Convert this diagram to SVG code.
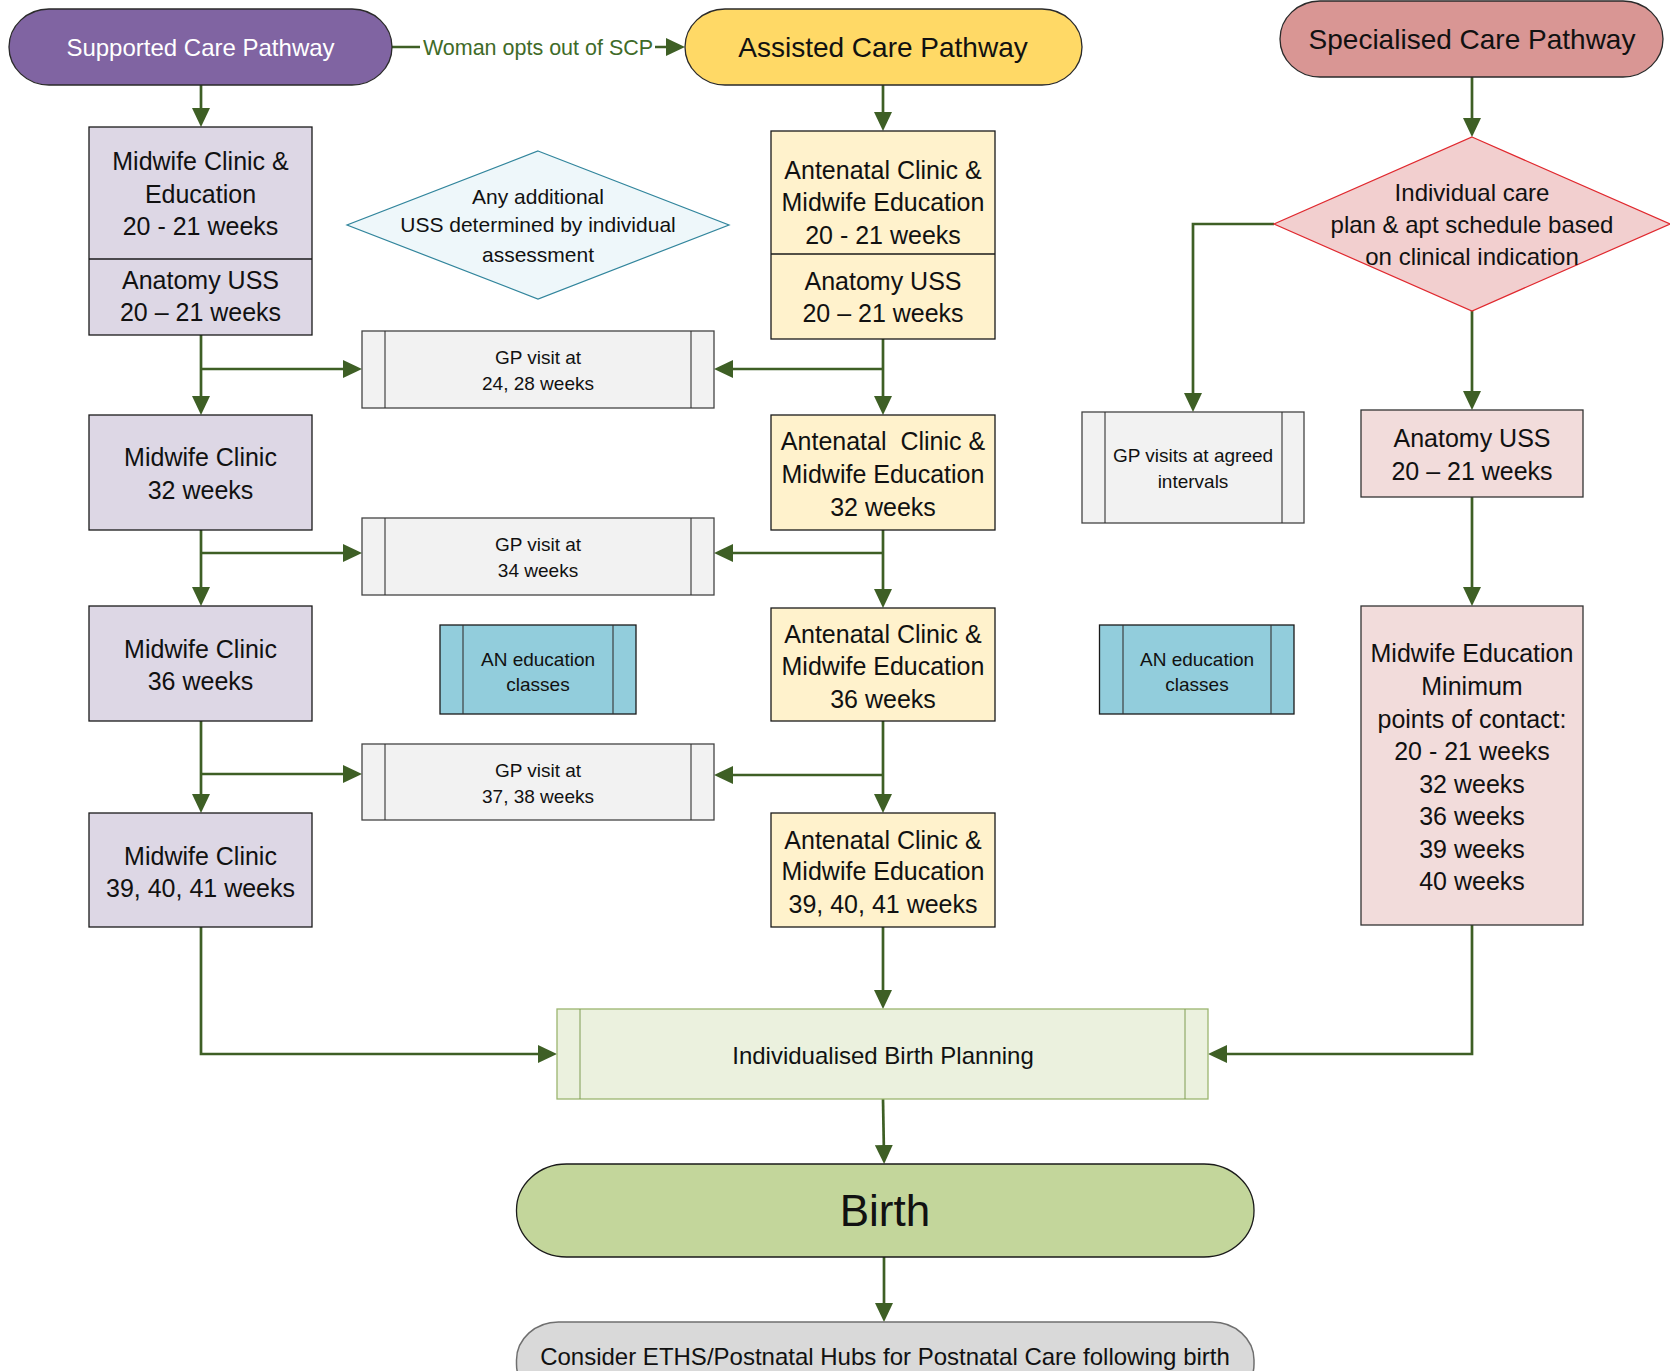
<svg xmlns="http://www.w3.org/2000/svg" width="1670" height="1371" viewBox="0 0 1670 1371">
<defs>
<marker id="arr" viewBox="0 0 19 18" refX="11" refY="9" markerWidth="19" markerHeight="18" markerUnits="userSpaceOnUse" orient="auto">
<path d="M0,0 L19,9 L0,18 Z" fill="#3E5F25"/>
</marker>
<style>
text{font-family:"Liberation Sans",Arial,sans-serif;text-anchor:middle;fill:#111;}
.t25{font-size:25px;}
.t24{font-size:24px;}
.t19{font-size:19px;}
.conn{fill:none;stroke:#3E5F25;stroke-width:2.7;marker-end:url(#arr);}
.scp{fill:#DDD7E5;stroke:#1a1a1a;stroke-width:1.3;}
.acp{fill:#FFF2CC;stroke:#1a1a1a;stroke-width:1.3;}
.spc{fill:#F2DCDB;stroke:#333;stroke-width:1.3;}
.gp{fill:#F2F2F2;stroke:#444;stroke-width:1.3;}
.an{fill:#92CDDC;stroke:#1a1a1a;stroke-width:1.3;}
.in{fill:none;stroke:#333;stroke-width:1.1;}
</style>
</defs>
<rect width="1670" height="1371" fill="#ffffff"/>

<g id="connectors">
<path class="conn" d="M392,47 H677"/>
<rect x="420" y="32" width="235" height="30" fill="#ffffff"/>
<text x="538" y="54.5" style="font-size:21.5px;fill:#3F6B28">Woman opts out of SCP</text>
<path class="conn" d="M201,85 V119"/>
<path class="conn" d="M201,335 V407"/>
<path class="conn" d="M201,369 H354"/>
<path class="conn" d="M201,530 V598"/>
<path class="conn" d="M201,553 H354"/>
<path class="conn" d="M201,721 V805"/>
<path class="conn" d="M201,774 H354"/>
<path class="conn" d="M201,927 V1054 H549"/>
<path class="conn" d="M883,85 V123"/>
<path class="conn" d="M883,339 V407"/>
<path class="conn" d="M883,369 H722"/>
<path class="conn" d="M883,530 V600"/>
<path class="conn" d="M883,553 H722"/>
<path class="conn" d="M883,721 V805"/>
<path class="conn" d="M883,775 H722"/>
<path class="conn" d="M883,927 V1001"/>
<path class="conn" d="M1472,77 V129"/>
<path class="conn" d="M1274,224 H1193 V404"/>
<path class="conn" d="M1472,310 V402"/>
<path class="conn" d="M1472,497 V598"/>
<path class="conn" d="M1472,925 V1054 H1216"/>
<path class="conn" d="M883,1099 L884,1156"/>
<path class="conn" d="M884,1257 V1314"/>
</g>

<g id="supported-pathway">
<rect x="9" y="9" width="383" height="76" rx="40" ry="38" fill="#8064A2" stroke="#2a2a2a" stroke-width="1.3"/>
<text x="200.5" y="55.5" class="t24" style="fill:#ffffff">Supported Care Pathway</text>
</g>

<g id="assisted-pathway">
<rect x="685" y="9" width="397" height="76" rx="40" ry="38" fill="#FFD966" stroke="#2a2a2a" stroke-width="1.3"/>
<text x="883" y="57" style="font-size:28px">Assisted Care Pathway</text>
</g>

<g id="specialised-pathway">
<rect x="1280" y="1" width="383" height="76" rx="40" ry="38" fill="#D99694" stroke="#2a2a2a" stroke-width="1.3"/>
<text x="1472" y="49" style="font-size:28px">Specialised Care Pathway</text>
</g>

<g id="scp-box1">
<rect class="scp" x="89" y="127" width="223" height="208"/>
<line x1="89" y1="259" x2="312" y2="259" stroke="#1a1a1a" stroke-width="1.3"/>
<text class="t25" x="200.5" y="170">Midwife Clinic &amp;</text>
<text class="t25" x="200.5" y="203">Education</text>
<text class="t25" x="200.5" y="235">20 - 21 weeks</text>
<text class="t25" x="200.5" y="289">Anatomy USS</text>
<text class="t25" x="200.5" y="321">20 – 21 weeks</text>
</g>

<g id="additional-uss">
<polygon points="538,151 729,225 538,299 347,225" fill="#EEF7FA" stroke="#31859C" stroke-width="1.2"/>
<text x="538" y="204" style="font-size:21px">Any additional</text>
<text x="538" y="232" style="font-size:21px">USS determined by individual</text>
<text x="538" y="262" style="font-size:21px">assessment</text>
</g>

<g id="acp-box1">
<rect class="acp" x="771" y="131" width="224" height="208"/>
<line x1="771" y1="254" x2="995" y2="254" stroke="#1a1a1a" stroke-width="1.3"/>
<text class="t25" x="883" y="179">Antenatal Clinic &amp;</text>
<text class="t25" x="883" y="211">Midwife Education</text>
<text class="t25" x="883" y="244">20 - 21 weeks</text>
<text class="t25" x="883" y="290">Anatomy USS</text>
<text class="t25" x="883" y="322">20 – 21 weeks</text>
</g>

<g id="individual-care-plan">
<polygon points="1472,137 1670,224 1472,311 1274,224" fill="#F2CFCF" stroke="#E0282E" stroke-width="1.2"/>
<text class="t24" x="1472" y="201">Individual care</text>
<text class="t24" x="1472" y="233">plan &amp; apt schedule based</text>
<text class="t24" x="1472" y="265">on clinical indication</text>
</g>

<g id="gp-24-28">
<rect class="gp" x="362" y="331" width="352" height="77"/>
<line class="in" x1="385" y1="331" x2="385" y2="408"/>
<line class="in" x1="691" y1="331" x2="691" y2="408"/>
<text class="t19" x="538" y="364">GP visit at</text>
<text class="t19" x="538" y="390">24, 28 weeks</text>
</g>

<g id="scp-box2">
<rect class="scp" x="89" y="415" width="223" height="115"/>
<text class="t25" x="200.5" y="466">Midwife Clinic</text>
<text class="t25" x="200.5" y="499">32 weeks</text>
</g>

<g id="acp-box2">
<rect class="acp" x="771" y="415" width="224" height="115"/>
<text class="t25" x="883" y="449.5" style="white-space:pre">Antenatal  Clinic &amp;</text>
<text class="t25" x="883" y="483">Midwife Education</text>
<text class="t25" x="883" y="515.5">32 weeks</text>
</g>

<g id="gp-agreed">
<rect class="gp" x="1082" y="412" width="222" height="111"/>
<line class="in" x1="1105" y1="412" x2="1105" y2="523"/>
<line class="in" x1="1282" y1="412" x2="1282" y2="523"/>
<text class="t19" x="1193" y="462">GP visits at agreed</text>
<text class="t19" x="1193" y="487.5">intervals</text>
</g>

<g id="spc-anatomy">
<rect class="spc" x="1361" y="410" width="222" height="87"/>
<text class="t25" x="1472" y="447">Anatomy USS</text>
<text class="t25" x="1472" y="479.5">20 – 21 weeks</text>
</g>

<g id="gp-34">
<rect class="gp" x="362" y="518" width="352" height="77"/>
<line class="in" x1="385" y1="518" x2="385" y2="595"/>
<line class="in" x1="691" y1="518" x2="691" y2="595"/>
<text class="t19" x="538" y="551">GP visit at</text>
<text class="t19" x="538" y="577">34 weeks</text>
</g>

<g id="scp-box3">
<rect class="scp" x="89" y="606" width="223" height="115"/>
<text class="t25" x="200.5" y="658">Midwife Clinic</text>
<text class="t25" x="200.5" y="690">36 weeks</text>
</g>

<g id="an-education-left">
<rect class="an" x="440" y="625" width="196" height="89"/>
<line class="in" x1="463" y1="625" x2="463" y2="714"/>
<line class="in" x1="613" y1="625" x2="613" y2="714"/>
<text class="t19" x="538" y="665.5">AN education</text>
<text class="t19" x="538" y="690.5">classes</text>
</g>

<g id="acp-box3">
<rect class="acp" x="771" y="608" width="224" height="113"/>
<text class="t25" x="883" y="643">Antenatal Clinic &amp;</text>
<text class="t25" x="883" y="675">Midwife Education</text>
<text class="t25" x="883" y="708">36 weeks</text>
</g>

<g id="an-education-right">
<rect class="an" x="1099.5" y="625" width="194.5" height="89"/>
<line class="in" x1="1123" y1="625" x2="1123" y2="714"/>
<line class="in" x1="1271" y1="625" x2="1271" y2="714"/>
<text class="t19" x="1197" y="665.5">AN education</text>
<text class="t19" x="1197" y="690.5">classes</text>
</g>

<g id="spc-midwife-education">
<rect class="spc" x="1361" y="606" width="222" height="319"/>
<text class="t25" x="1472" y="662">Midwife Education</text>
<text class="t25" x="1472" y="694.5">Minimum</text>
<text class="t25" x="1472" y="727.5">points of contact:</text>
<text class="t25" x="1472" y="760">20 - 21 weeks</text>
<text class="t25" x="1472" y="792.5">32 weeks</text>
<text class="t25" x="1472" y="825">36 weeks</text>
<text class="t25" x="1472" y="857.5">39 weeks</text>
<text class="t25" x="1472" y="889.5">40 weeks</text>
</g>

<g id="gp-37-38">
<rect class="gp" x="362" y="744" width="352" height="76"/>
<line class="in" x1="385" y1="744" x2="385" y2="820"/>
<line class="in" x1="691" y1="744" x2="691" y2="820"/>
<text class="t19" x="538" y="777">GP visit at</text>
<text class="t19" x="538" y="803">37, 38 weeks</text>
</g>

<g id="scp-box4">
<rect class="scp" x="89" y="813" width="223" height="114"/>
<text class="t25" x="200.5" y="864.5">Midwife Clinic</text>
<text class="t25" x="200.5" y="897">39, 40, 41 weeks</text>
</g>

<g id="acp-box4">
<rect class="acp" x="771" y="813" width="224" height="114"/>
<text class="t25" x="883" y="849">Antenatal Clinic &amp;</text>
<text class="t25" x="883" y="880">Midwife Education</text>
<text class="t25" x="883" y="913">39, 40, 41 weeks</text>
</g>

<g id="birth-planning">
<rect x="557" y="1009" width="651" height="90" fill="#EBF1DE" stroke="#9BB56F" stroke-width="1.3"/>
<line x1="580" y1="1009" x2="580" y2="1099" stroke="#7E9C52" stroke-width="1"/>
<line x1="1185" y1="1009" x2="1185" y2="1099" stroke="#7E9C52" stroke-width="1"/>
<text class="t24" x="883" y="1064">Individualised Birth Planning</text>
</g>

<g id="birth">
<rect x="516.5" y="1164" width="737.5" height="93" rx="50" ry="46" fill="#C3D69B" stroke="#1a1a1a" stroke-width="1.3"/>
<text x="885" y="1226" style="font-size:44px">Birth</text>
</g>

<g id="postnatal">
<rect x="516.5" y="1322" width="737.5" height="80" rx="42" ry="38" fill="#D9D9D9" stroke="#6f6f6f" stroke-width="1.5"/>
<text class="t24" x="885" y="1365">Consider ETHS/Postnatal Hubs for Postnatal Care following birth</text>
</g>
</svg>
